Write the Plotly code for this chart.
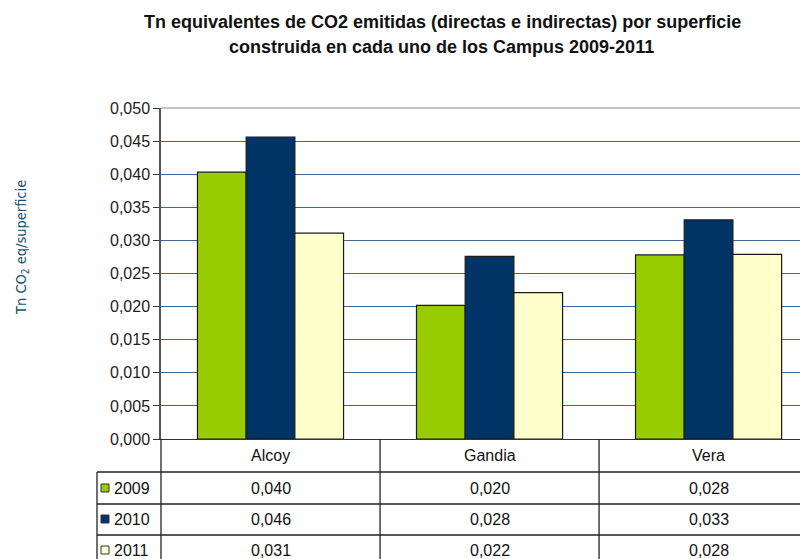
import plotly.graph_objects as go

# ---------------- data ----------------
campus = ["Alcoy", "Gandia", "Vera"]
years = ["2009", "2010", "2011"]
v2009 = [0.0403, 0.0202, 0.0278]
v2010 = [0.0456, 0.0276, 0.0331]
v2011 = [0.0311, 0.0221, 0.0279]
series = [v2009, v2010, v2011]
colors = ["#99cc00", "#003366", "#ffffcc"]
yticks = [i * 0.005 for i in range(11)]
ytick_text = [f"{t:.3f}".replace(".", ",") for t in yticks]

OFF = 8                      # page body margin of the html page
W, H = 808 - OFF, 559 - OFF
L, T, B_PX = 161 - OFF, 108 - OFF, 439 - OFF   # plot area in figure px
PW, PH = W - L, B_PX - T
XMIN, XMAX = -0.5, 2.454


def px_x(px):
    """screen px -> paper x"""
    return (px - OFF - L) / PW


def px_y(py):
    """screen px -> paper y"""
    return (B_PX - (py - OFF)) / PH


def data_x(v):
    return (v - XMIN) / (XMAX - XMIN)


fig = go.Figure()
for yr, vals, col in zip(years, series, colors):
    fig.add_trace(go.Bar(
        x=list(range(len(campus))), y=vals, name=yr,
        marker=dict(color=col, line=dict(color="#1a1a1a", width=1.2)),
        showlegend=False,
    ))

shapes = []
annotations = []
line_col = "#222222"

# top border at 0.050
shapes.append(dict(type="line", xref="paper", yref="paper", x0=0, x1=1, y0=1, y1=1,
                   line=dict(color="#8a8a8a", width=1.2)))

# table
row_edges = [439, 472, 504, 535, 575]
col_bounds = [data_x(i - 0.5) for i in range(len(campus))]
left_col = px_x(97)
for ry in row_edges[1:4]:
    shapes.append(dict(type="line", xref="paper", yref="paper", x0=left_col, x1=1.05,
                       y0=px_y(ry), y1=px_y(ry), line=dict(color=line_col, width=1.3)))
shapes.append(dict(type="line", xref="paper", yref="paper", x0=left_col, x1=left_col,
                   y0=px_y(472), y1=px_y(575), line=dict(color=line_col, width=1.3)))
for cb in col_bounds:
    shapes.append(dict(type="line", xref="paper", yref="paper", x0=cb, x1=cb,
                       y0=px_y(439), y1=px_y(575), line=dict(color=line_col, width=1.3)))

cell_font = dict(family="Liberation Sans, Arial, sans-serif", size=16, color="#111111")
for i, c in enumerate(campus):
    annotations.append(dict(x=i, xref="x", y=px_y(455), yref="paper",
                            text=c, showarrow=False, font=cell_font,
                            xanchor="center", yanchor="middle"))
row_centers = [488, 519, 550]
for r, (yr, vals, col) in enumerate(zip(years, series, colors)):
    yc = px_y(row_centers[r])
    for i, v in enumerate(vals):
        annotations.append(dict(x=i, xref="x", y=yc, yref="paper",
                                text=f"{v:.3f}".replace(".", ","), showarrow=False,
                                font=cell_font, xanchor="center", yanchor="middle"))
    sq = 8
    shapes.append(dict(type="rect", xref="paper", yref="paper",
                       x0=px_x(101), x1=px_x(101 + sq),
                       y0=yc - (sq / 2) / PH, y1=yc + (sq / 2) / PH,
                       fillcolor=col, line=dict(color="#333333", width=1)))
    annotations.append(dict(x=px_x(112), xref="paper", y=yc, yref="paper", text=yr,
                            showarrow=False, font=cell_font, xanchor="left", yanchor="middle"))

# y axis title
annotations.append(dict(x=px_x(22), xref="paper", y=px_y(248), yref="paper",
                        text="Tn CO<sub>2</sub> eq/superficie", textangle=-90, showarrow=False,
                        font=dict(family="DejaVu Sans Condensed, Liberation Sans Narrow, sans-serif",
                                  size=14.5, color="#154d6e"),
                        xanchor="center", yanchor="middle"))

# title lines
title_font = dict(family="Liberation Sans, Arial, sans-serif", size=18, color="#111111")
annotations.append(dict(x=px_x(442), xref="paper", y=px_y(22), yref="paper",
                        text="<b>Tn equivalentes de CO2 emitidas (directas e indirectas) por superficie</b>",
                        showarrow=False, font=title_font, xanchor="center", yanchor="middle"))
annotations.append(dict(x=px_x(441), xref="paper", y=px_y(47), yref="paper",
                        text="<b>construida en cada uno de los Campus 2009-2011</b>",
                        showarrow=False, font=title_font, xanchor="center", yanchor="middle"))

fig.update_layout(
    width=W, height=H,
    margin=dict(l=L, r=0, t=T, b=H - B_PX, pad=0),
    paper_bgcolor="white", plot_bgcolor="white",
    barmode="group", bargap=0.333, bargroupgap=0,
    xaxis=dict(range=[XMIN, XMAX], showticklabels=False, ticks="", showgrid=False,
               showline=True, linecolor="#333333", linewidth=1.2, zeroline=False),
    yaxis=dict(range=[0, 0.05], tickvals=yticks, ticktext=ytick_text,
               ticks="outside", ticklen=6, tickcolor="#333333",
               showline=True, linecolor="#555555", linewidth=1.5,
               showgrid=True, gridcolor="#40679a", gridwidth=1.2, zeroline=False,
               tickfont=dict(family="Liberation Sans, Arial, sans-serif", size=16, color="#222222")),
    shapes=shapes, annotations=annotations,
)

fig.write_html("out.html")
